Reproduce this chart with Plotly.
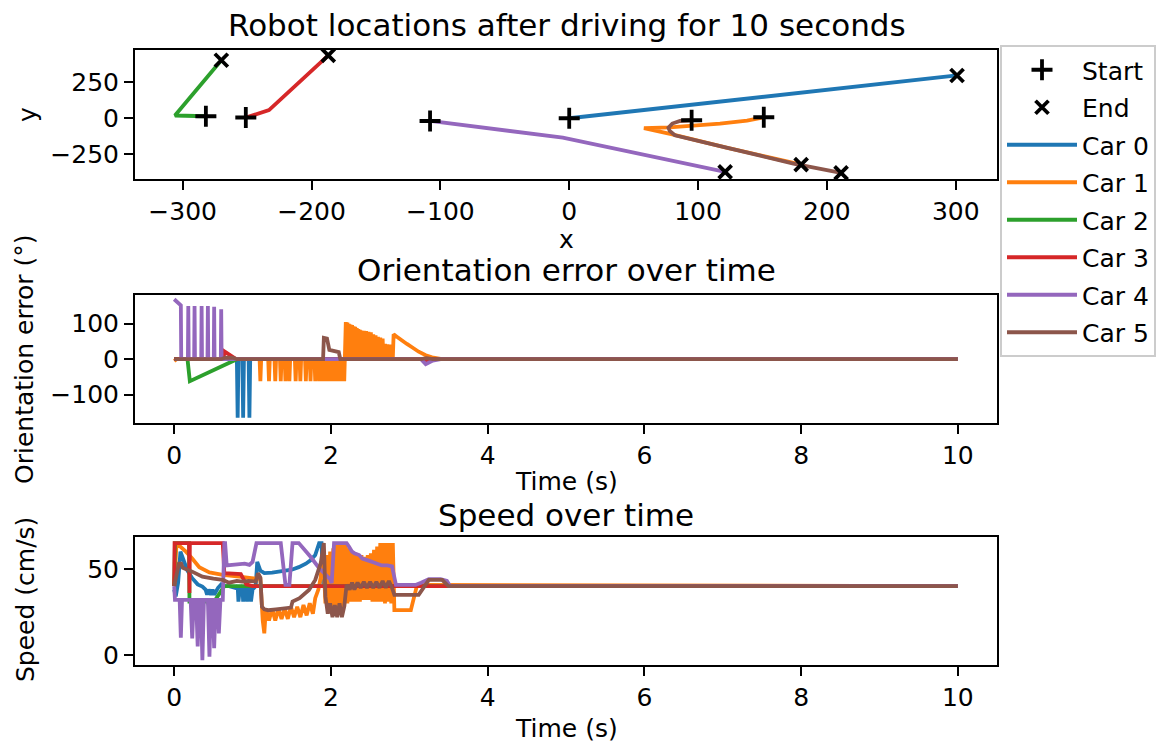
import plotly.graph_objects as go

# ---------------- data ----------------
CAR_NAMES = ["Car 0", "Car 1", "Car 2", "Car 3", "Car 4", "Car 5"]
COLORS = ["#1f77b4", "#ff7f0e", "#2ca02c", "#d62728", "#9467bd", "#8c564b"]

# Trajectories (x, y) of every car, first point = start, last point = end
CAR0_X = [0, 301]
CAR0_Y = [0, 297]
CAR1_X = [151, 138, 117, 102, 78, 58, 80, 122, 180]
CAR1_Y = [7, -16, -37, -49, -63, -68, -112, -204, -322]
CAR2_X = [-282, -302, -306, -270]
CAR2_Y = [14, 14, 19, 403]
CAR3_X = [-251, -233, -187]
CAR3_Y = [5, 56, 437]
CAR4_X = [-108, -5, 121]
CAR4_Y = [-19, -135, -373]
CAR5_X = [95, 86, 80, 77, 78, 82, 122, 174, 211]
CAR5_Y = [-14, -19, -37, -65, -88, -118, -204, -315, -380]

# Orientation error (deg) over time (s)
ORI0_T = [0, 0.80, 0.81, 0.82, 0.87, 0.88, 0.89, 0.95, 0.96, 0.97, 10]
ORI0_V = [0, 0, -165, 0, 0, -165, 0, 0, -165, 0, 0]

ORI1_T = [0, 0.03, 1.09, 1.10, 1.11, 1.20, 1.21, 1.22, 1.28, 1.29, 1.30, 1.35, 1.36, 1.37,
          1.41, 1.42, 1.43, 1.46, 1.47, 1.48, 1.54, 1.55, 1.56, 1.60, 1.61, 1.62, 1.67, 1.68,
          1.69, 1.73, 1.74, 1.75, 1.79, 1.80, 1.81, 1.84, 1.85, 1.86, 1.88, 1.89, 1.90,
          1.92, 1.93, 1.94, 1.95, 1.96, 1.97, 1.98, 1.99, 2.00, 2.01, 2.02, 2.03, 2.04, 2.05,
          2.06, 2.07, 2.08, 2.09, 2.10, 2.11, 2.12, 2.13, 2.14, 2.15, 2.16, 2.17, 2.18,
          2.19, 2.20, 2.21, 2.22, 2.23, 2.24, 2.25, 2.26, 2.27, 2.28, 2.29, 2.30, 2.31, 2.32,
          2.33, 2.34, 2.35, 2.36, 2.37, 2.38, 2.39, 2.40, 2.42, 2.43, 2.45, 2.46, 2.48, 2.49,
          2.51, 2.52, 2.54, 2.55, 2.57, 2.58, 2.60, 2.61, 2.63, 2.64, 2.66, 2.67, 2.69, 2.70,
          2.72, 2.73, 2.75, 2.76, 2.78, 2.79, 2.80, 2.85, 2.91, 2.97, 3.04, 3.12, 3.21, 3.29,
          3.40, 3.50, 10]
ORI1_V = [-5, 0, 0, -62, 0, 0, -62, 0, 0, -62, 0, 0, -62, 0,
          0, -62, 0, 0, -62, 0, 0, -62, 0, 0, -62, 0, 0, -62,
          0, 0, -62, 0, 0, -62, 0, 0, -62, 0, 0, -62, 0,
          0, -62, 0, -62, 0, -62, 0, -62, 0, -62, 0, -62, 0, -62,
          0, -62, 0, -62, 0, -62, 0, -62, 0, -62, 0, -62, 0,
          105, 0, 103, 0, 100, 0, 98, 0, 96, 0, 93, 0, 91, 0,
          88, 0, 85, 0, 83, 0, 81, 0, 80, 0, 79, 0, 77, 0,
          76, 0, 70, 0, 67, 0, 63, 0, 61, 0, 58, 0, 43, 0,
          42, 0, 41, 0, 40, 3, 70, 62, 54, 43, 33, 21, 11, 5,
          1, 0, 0]

ORI2_T = [0, 0.17, 0.20, 0.75, 0.80, 10]
ORI2_V = [0, 0, -62, -3, 0, 0]

ORI3_T = [0, 0.63, 0.64, 0.79, 0.85, 3.15, 3.22, 3.30, 10]
ORI3_V = [0, 0, 22, 0, 0, 0, -3, 0, 0]

ORI4_T = [0, 0.085, 0.09, 0.175, 0.18, 0.185, 0.255, 0.26, 0.265, 0.345, 0.35, 0.355,
          0.425, 0.43, 0.435, 0.505, 0.51, 0.515, 0.595, 0.60, 0.605, 3.15, 3.21, 3.30, 3.40, 10]
ORI4_V = [169, 152, 0, 0, 150, 0, 0, 150, 0, 0, 150, 0,
          0, 150, 0, 0, 148, 0, 0, 141, 0, 0, -14, -4, 0, 0]

ORI5_T = [0, 0.60, 0.65, 0.75, 0.80, 1.90, 1.91, 1.95, 1.98, 2.05, 2.10, 2.12, 3.15, 3.22, 3.30, 10]
ORI5_V = [0, 0, 4, 4, 0, 0, 60, 58, 26, 22, 20, 0, 0, 3, 0, 0]

# Speed (cm/s) over time (s)
SPD0_T = [0, 0.02, 0.05, 0.08, 0.12, 0.17, 0.23, 0.30, 0.36, 0.40, 0.42, 0.44, 0.47, 0.49,
          0.51, 0.53, 0.56, 0.60, 0.64, 0.70, 0.78, 0.81, 0.82, 0.84, 0.87, 0.88, 0.90, 0.92,
          0.93, 0.95, 0.97, 0.98, 1.00, 1.04, 1.06, 1.10, 1.15, 1.25, 1.38, 1.50, 1.59, 1.68,
          1.74, 1.80, 1.85, 1.88, 1.90, 1.95, 10]
SPD0_V = [38, 34, 42, 60, 55, 49, 44.6, 41, 39.7, 38, 35, 38, 35, 38,
          35, 37, 39, 41, 40, 40, 39, 40, 31, 39, 40, 31, 40, 39,
          31, 40, 38, 31, 38, 40, 54, 49, 47.5, 47.8, 48.4, 49.5, 51, 53,
          55, 58, 65, 65, 42, 40, 40]

SPD1_T = [0, 0.03, 0.05, 0.10, 0.15, 0.23, 0.32, 0.45, 0.62, 0.83, 1.04, 1.10, 1.13, 1.15,
          1.17, 1.21, 1.25, 1.29, 1.33, 1.37, 1.41, 1.45, 1.49, 1.53, 1.57, 1.61, 1.65, 1.69,
          1.73, 1.77, 1.80, 1.84, 1.87, 1.90, 1.93,
          1.95, 1.97, 1.99, 2.01, 2.03, 2.05, 2.07, 2.09, 2.11, 2.13, 2.15, 2.17, 2.19, 2.21,
          2.23, 2.25, 2.27, 2.29, 2.31, 2.33, 2.35, 2.37, 2.39, 2.41, 2.43, 2.45, 2.47, 2.49,
          2.51, 2.53, 2.55, 2.57, 2.59, 2.61, 2.63, 2.65, 2.67, 2.69, 2.71, 2.73, 2.75, 2.77,
          2.79, 2.81, 3.02, 3.10, 10]
SPD1_V = [40, 65, 64, 62, 60, 56, 51, 48, 46.5, 45.5, 44.6, 44, 20, 12.6,
          27, 20, 27, 20, 27, 21, 27, 21, 28, 22, 28, 22, 29, 23,
          30, 24, 33, 38, 45, 60, 30,
          58, 25, 60, 24, 62, 25, 64, 25, 65, 26, 65, 28, 65, 30,
          62, 31, 60, 31, 59, 31, 58, 31, 58, 32, 57, 32, 58, 32,
          59, 31, 61, 31, 63, 31, 65, 31, 65, 30, 65, 31, 65, 30,
          65, 26, 26, 40.7, 40]

SPD2_T = [0, 0.01, 0.19, 0.195, 0.27, 0.28, 0.29, 0.35, 0.36, 0.37, 0.43, 0.44, 0.45, 0.51, 0.64, 0.70, 10]
SPD2_V = [40, 65, 65, 31, 31, 29, 31, 31, 29, 31, 31, 29, 31, 31, 40, 40, 40]

SPD3_T = [0, 0.005, 0.19, 0.195, 0.20, 0.62, 0.64, 0.85, 0.92, 1.00, 10]
SPD3_V = [40, 65, 65, 36, 65, 65, 47.5, 47, 41, 40, 40]

SPD4_T = [0, 0.01, 0.07, 0.085, 0.10, 0.21, 0.23, 0.25, 0.28, 0.30, 0.32, 0.34, 0.36, 0.38,
          0.43, 0.45, 0.47, 0.49, 0.51, 0.53, 0.55, 0.57, 0.59, 0.62, 0.64, 0.65, 0.67, 0.80,
          0.90, 0.96, 1.00, 1.05, 1.36, 1.42, 1.47, 1.51, 1.59, 1.74, 1.85, 1.99, 2.01, 2.04,
          2.20, 2.23, 2.27, 2.30, 2.33, 2.36, 2.40, 2.45, 2.50, 2.53, 2.58, 2.65, 2.72, 2.78,
          2.83, 3.08, 3.15, 3.25, 3.40, 3.48, 3.52, 10]
SPD4_V = [40, 32, 32, 10, 32, 32, 9.7, 32, 32, 5, 32, 32, -3, 32,
          32, -1, 32, 32, 4, 32, 32, 12.6, 32, 32, 65, 65, 52, 52.5,
          53, 52.3, 54, 65, 65, 40.7, 40.7, 65, 65, 57, 50.4, 44, 41.7, 65,
          65, 63, 60, 59, 58.5, 58, 56, 55, 54.5, 54, 53, 52, 52, 51.4,
          40.7, 40.7, 42, 44, 44, 43, 40, 40]

SPD5_T = [0, 0.02, 0.06, 0.09, 0.11, 0.23, 0.36, 0.50, 0.62, 0.70, 0.80, 0.87, 0.95, 1.04,
          1.07, 1.10, 1.12, 1.15, 1.20, 1.30, 1.40, 1.49, 1.51, 1.60, 1.72, 1.80, 1.87, 1.91,
          1.93, 1.96, 1.99, 2.02, 2.05, 2.08, 2.11, 2.14, 2.17, 2.20, 2.24, 2.27, 2.30, 2.34,
          2.38, 2.42, 2.46, 2.50, 2.54, 2.58, 2.62, 2.66, 2.70, 2.74, 2.78, 2.81, 3.12, 3.20,
          3.25, 3.42, 3.50, 10]
SPD5_V = [40, 45, 53, 53, 50.6, 48.4, 45.5, 44.3, 43.6, 42, 43, 42.6, 43, 42.6,
          47.5, 45, 28, 26.5, 26, 26.5, 27, 27.5, 31, 33, 37.8, 43.6, 53.3, 65,
          34, 24, 30, 22, 29, 22, 30, 22, 28, 40.7, 38, 42, 38, 42,
          39, 42.5, 39, 42.5, 39, 42.5, 39, 43, 39, 43, 39, 34.9, 34.9, 40,
          43.6, 43.6, 40, 40]

PATHS_X = [CAR0_X, CAR1_X, CAR2_X, CAR3_X, CAR4_X, CAR5_X]
PATHS_Y = [CAR0_Y, CAR1_Y, CAR2_Y, CAR3_Y, CAR4_Y, CAR5_Y]
ORI_T = [ORI0_T, ORI1_T, ORI2_T, ORI3_T, ORI4_T, ORI5_T]
ORI_V = [ORI0_V, ORI1_V, ORI2_V, ORI3_V, ORI4_V, ORI5_V]
SPD_T = [SPD0_T, SPD1_T, SPD2_T, SPD3_T, SPD4_T, SPD5_T]
SPD_V = [SPD0_V, SPD1_V, SPD2_V, SPD3_V, SPD4_V, SPD5_V]

XY_XTICKS = [-300, -200, -100, 0, 100, 200, 300]
XY_YTICKS = [-250, 0, 250]
TIME_TICKS = [0, 2, 4, 6, 8, 10]
ORI_TICKS = [-100, 0, 100]
SPD_TICKS = [0, 50]

# ---------------- figure ----------------
W, H = 1158, 742
FONT = "DejaVu Sans"
LW = 3.8

fig = go.Figure()

for i in range(6):
    fig.add_trace(go.Scatter(x=PATHS_X[i], y=PATHS_Y[i], mode="lines", name=CAR_NAMES[i],
                             line=dict(color=COLORS[i], width=LW), legendrank=10 + i,
                             legendgroup=CAR_NAMES[i], xaxis="x", yaxis="y"))

fig.add_trace(go.Scatter(x=[p[0] for p in PATHS_X], y=[p[0] for p in PATHS_Y], mode="markers",
                         name="Start", legendrank=1, legendgroup="start", xaxis="x", yaxis="y",
                         marker=dict(symbol="cross-thin", size=15, color="black",
                                     line=dict(color="black", width=3.8))))
fig.add_trace(go.Scatter(x=[p[-1] for p in PATHS_X], y=[p[-1] for p in PATHS_Y], mode="markers",
                         name="End", legendrank=2, legendgroup="end", xaxis="x", yaxis="y",
                         marker=dict(symbol="x-thin", size=13, color="black",
                                     line=dict(color="black", width=3.8))))

for i in range(6):
    fig.add_trace(go.Scatter(x=ORI_T[i], y=ORI_V[i], mode="lines", showlegend=False,
                             line=dict(color=COLORS[i], width=LW), xaxis="x2", yaxis="y2"))
for i in range(6):
    fig.add_trace(go.Scatter(x=SPD_T[i], y=SPD_V[i], mode="lines", showlegend=False,
                             line=dict(color=COLORS[i], width=LW), xaxis="x3", yaxis="y3"))


def px_x(p):
    return p / W


def px_y(p):
    return 1 - p / H


axis_style = dict(showline=True, linecolor="black", linewidth=2, mirror=True,
                  ticks="outside", ticklen=9, tickwidth=2, tickcolor="black",
                  showgrid=False, zeroline=False,
                  tickfont=dict(family=FONT, size=25, color="black"))

XDOM = [px_x(135), px_x(997)]

fig.update_layout(
    width=W, height=H, margin=dict(l=0, r=0, t=0, b=0, autoexpand=False),
    paper_bgcolor="white", plot_bgcolor="white",
    font=dict(family=FONT, size=25, color="black"),
    xaxis=dict(domain=XDOM, anchor="y", range=[-337, 332], tickvals=XY_XTICKS, **axis_style),
    yaxis=dict(domain=[px_y(179), px_y(50)], anchor="x", range=[-422, 474],
               tickvals=XY_YTICKS, **axis_style),
    xaxis2=dict(domain=XDOM, anchor="y2", range=[-0.5, 10.5], tickvals=TIME_TICKS, **axis_style),
    yaxis2=dict(domain=[px_y(423), px_y(295)], anchor="x2", range=[-180, 181],
                tickvals=ORI_TICKS, **axis_style),
    xaxis3=dict(domain=XDOM, anchor="y3", range=[-0.5, 10.5], tickvals=TIME_TICKS, **axis_style),
    yaxis3=dict(domain=[px_y(665), px_y(537)], anchor="x3", range=[-5.8, 68.5],
                tickvals=SPD_TICKS, **axis_style),
    legend=dict(x=px_x(1000), y=px_y(45), xanchor="left", yanchor="top",
                bordercolor="#cccccc", borderwidth=2, bgcolor="white",
                tracegroupgap=2,
                font=dict(family=FONT, size=25, color="black"), itemwidth=70),
)

texts = [
    ("Robot locations after driving for 10 seconds", 567, 25, 0, 31),
    ("x", 566, 240, 0, 25),
    ("y", 28, 115, -90, 25),
    ("Orientation error over time", 566, 270, 0, 31),
    ("Time (s)", 566, 481, 0, 25),
    ("Orientation error (°)", 25, 359, -90, 25),
    ("Speed over time", 566, 515, 0, 31),
    ("Time (s)", 566, 728, 0, 25),
    ("Speed (cm/s)", 25, 600, -90, 25),
]
for txt, x, y, ang, size in texts:
    fig.add_annotation(text=txt, x=px_x(x), y=px_y(y), xref="paper", yref="paper",
                       xanchor="center", yanchor="middle", showarrow=False, textangle=ang,
                       font=dict(family=FONT, size=size, color="black"))

fig.write_html("out.html")
